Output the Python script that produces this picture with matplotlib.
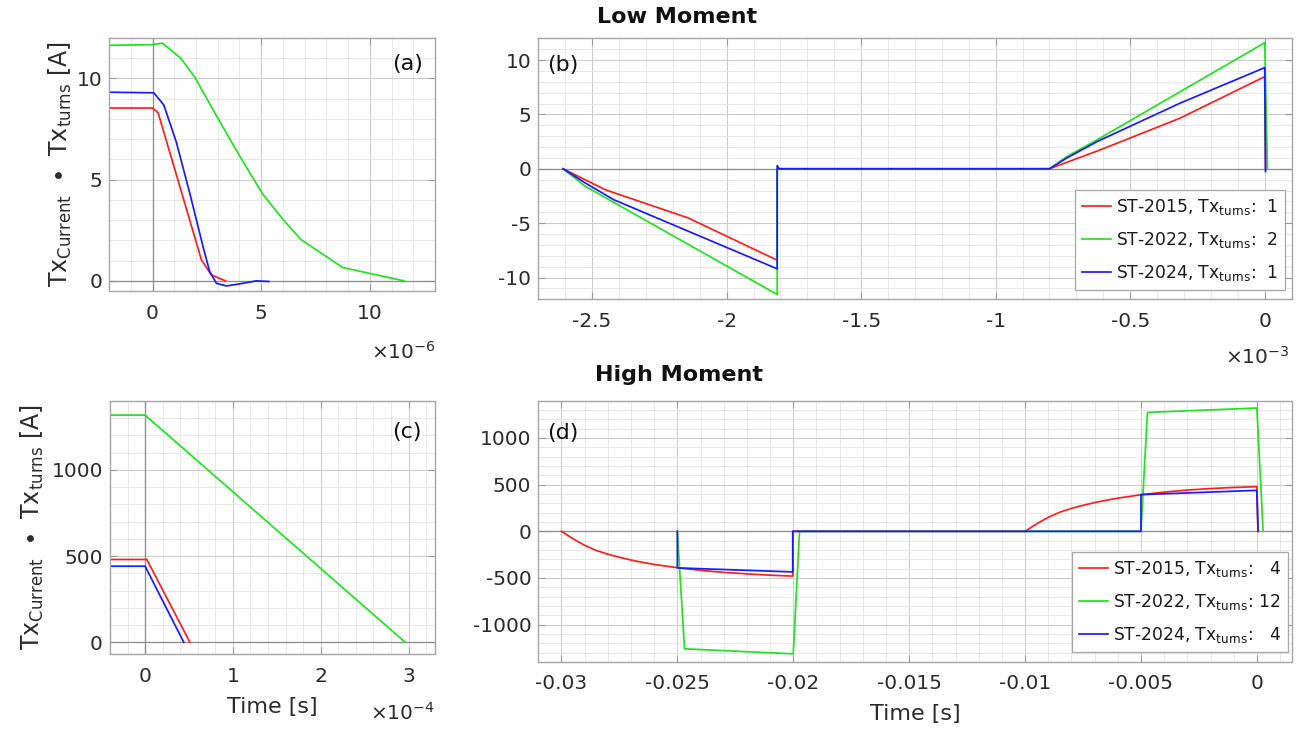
import matplotlib
matplotlib.use('Agg')
import matplotlib.pyplot as plt
from matplotlib.ticker import FixedLocator, FixedFormatter, MultipleLocator

plt.rcParams.update({
    'font.family': ['DejaVu Sans'],
    'mathtext.default': 'regular',
    'axes.unicode_minus': False,
})

# ---------------- data ----------------
# (a) Low moment turn-off ramp, time in units of 1e-6 s
a_red_t = [-2.0, 0.0, 0.26, 2.25, 2.7, 3.36]
a_red_y = [8.54, 8.54, 8.3, 1.04, 0.3, 0.0]
a_green_t = [-2.0, 0.0, 0.46, 1.3, 1.94, 2.94, 4.0, 5.08, 6.07, 6.83, 8.75, 11.57]
a_green_y = [11.64, 11.67, 11.74, 11.0, 10.07, 8.16, 6.18, 4.27, 2.95, 2.04, 0.66, 0.0]
a_blue_t = [-2.0, 0.06, 0.52, 1.10, 1.71, 2.32, 2.63, 2.94, 3.4, 4.0, 4.77, 5.35]
a_blue_y = [9.32, 9.29, 8.69, 6.84, 4.35, 1.71, 0.46, -0.12, -0.25, -0.15, 0.0, -0.03]

# (b) Low moment full waveform, time in units of 1e-3 s
b_red_t = [-2.608, -2.451, -2.142, -1.812, -1.812, -0.8, -0.611, -0.315, 0.0, 0.003]
b_red_y = [0.0, -1.93, -4.53, -8.41, 0.0, 0.0, 1.74, 4.65, 8.47, 0.0]
b_green_t = [-2.608, -2.525, -1.812, -1.812, -0.8, -0.735, -0.623, 0.0, 0.01]
b_green_y = [0.0, -1.62, -11.56, 0.0, 0.0, 1.13, 2.66, 11.59, 0.0]
b_blue_t = [-2.608, -2.525, -2.42, -1.812, -1.812, -1.805, -0.8, -0.735, -0.623, -0.315, 0.0, 0.003]
b_blue_y = [0.0, -1.31, -2.84, -9.2, 0.3, 0.0, 0.0, 1.0, 2.5, 6.03, 9.3, -0.25]

# (c) High moment turn-off ramp, time in units of 1e-4 s
c_red_t = [-0.4, 0.02, 0.51]
c_red_y = [480, 480, 0]
c_green_t = [-0.4, 0.0, 2.96]
c_green_y = [1318, 1318, 0]
c_blue_t = [-0.4, 0.0, 0.44]
c_blue_y = [441, 441, 0]

# (d) High moment full waveform, time in s
d_red_t = [-0.030, -0.0295, -0.029, -0.0285, -0.028, -0.0275, -0.027, -0.0265, -0.026, -0.025,
           -0.024, -0.023, -0.022, -0.021, -0.02002, -0.02002,
           -0.010, -0.0095, -0.009, -0.0085, -0.008, -0.0075, -0.007, -0.0065, -0.006, -0.005,
           -0.004, -0.003, -0.002, -0.001, 0.0, 0.00005]
d_red_y = [0, -80, -150, -205, -245, -278, -308, -333, -355, -390,
           -418, -440, -456, -470, -480, 0,
           0, 80, 150, 205, 245, 278, 308, 333, 355, 392,
           420, 442, 458, 470, 478, 0]
d_green_t = [-0.025, -0.02469, -0.0200, -0.01973, -0.005, -0.00472, 0.0, 0.00027]
d_green_y = [0, -1259, -1313, 0, 0, 1274, 1321, 0]
d_blue_t = [-0.025, -0.025, -0.02002, -0.02002, -0.005, -0.005, 0.0, 0.00005]
d_blue_y = [0, -392, -435, 0, 0, 393, 439, 0]

series_names = ['ST-2015', 'ST-2022', 'ST-2024']
turns_low = [1, 2, 1]
turns_high = [4, 12, 4]

# ticks
a_xticks = [0, 5, 10]
a_yticks = [0, 5, 10]
b_xticks = [-2.5, -2.0, -1.5, -1.0, -0.5, 0.0]
b_xticklabels = ['-2.5', '-2', '-1.5', '-1', '-0.5', '0']
b_yticks = [-10, -5, 0, 5, 10]
c_xticks = [0, 1, 2, 3]
c_yticks = [0, 500, 1000]
d_xticks = [-0.03, -0.025, -0.02, -0.015, -0.01, -0.005, 0.0]
d_xticklabels = ['-0.03', '-0.025', '-0.02', '-0.015', '-0.01', '-0.005', '0']
d_yticks = [-1000, -500, 0, 500, 1000]

# ---------------- style ----------------
RED = '#ff1f1f'
GREEN = '#22e022'
BLUE = '#1a1aff'
LW = 1.25
TXT = '#2b2b2b'
SPINE = '#a6a6a6'

fig = plt.figure(figsize=(12.98, 7.33), dpi=100)
ax_a = fig.add_axes([0.0840, 0.6030, 0.2512, 0.3452])
ax_b = fig.add_axes([0.4147, 0.5917, 0.5804, 0.3561])
ax_c = fig.add_axes([0.0847, 0.1074, 0.2504, 0.3456])
ax_d = fig.add_axes([0.4147, 0.0969, 0.5804, 0.3565])


def style(ax, xlim, ylim, xticks, yticks, xminor, yminor, xticklabels=None):
    ax.set_xlim(*xlim)
    ax.set_ylim(*ylim)
    ax.xaxis.set_major_locator(FixedLocator(xticks))
    ax.yaxis.set_major_locator(FixedLocator(yticks))
    if xticklabels is not None:
        ax.xaxis.set_major_formatter(FixedFormatter(xticklabels))
    ax.xaxis.set_minor_locator(MultipleLocator(xminor))
    ax.yaxis.set_minor_locator(MultipleLocator(yminor))
    ax.set_axisbelow(True)
    ax.grid(which='major', color='#cdcdcd', lw=0.8)
    ax.grid(which='minor', color='#e4e4e4', lw=0.6)
    ax.tick_params(which='both', direction='in', top=True, right=True,
                   color='#9a9a9a', labelcolor=TXT, labelsize=14.5)
    ax.tick_params(which='major', length=5, width=0.8)
    ax.tick_params(which='minor', length=0)
    ax.tick_params(axis='x', pad=9)
    ax.tick_params(axis='y', pad=5)
    for s in ax.spines.values():
        s.set_color(SPINE)
        s.set_linewidth(1.0)


style(ax_a, (-2, 13), (-0.5, 12), a_xticks, a_yticks, 1, 1)
style(ax_b, (-2.7, 0.1), (-12, 12), b_xticks, b_yticks, 0.1, 1, b_xticklabels)
style(ax_c, (-0.4, 3.3), (-70, 1400), c_xticks, c_yticks, 0.2, 100)
style(ax_d, (-0.031, 0.0015), (-1400, 1400), d_xticks, d_yticks, 0.001, 100, d_xticklabels)

for ax in (ax_a, ax_c):
    ax.axhline(0, color='#8c8c8c', lw=0.9, zorder=1.5)
    ax.axvline(0, color='#8c8c8c', lw=0.9, zorder=1.5)
for ax in (ax_b, ax_d):
    ax.axhline(0, color='#8c8c8c', lw=0.9, zorder=1.5)

ax_a.plot(a_red_t, a_red_y, color=RED, lw=LW)
ax_a.plot(a_green_t, a_green_y, color=GREEN, lw=LW)
ax_a.plot(a_blue_t, a_blue_y, color=BLUE, lw=LW)

ax_c.plot(c_red_t, c_red_y, color=RED, lw=LW)
ax_c.plot(c_green_t, c_green_y, color=GREEN, lw=LW)
ax_c.plot(c_blue_t, c_blue_y, color=BLUE, lw=LW)

lab_low = [r'%s, $\mathregular{Tx_{turns}}$:  %d' % (n, k) for n, k in zip(series_names, turns_low)]
lab_high = [r'%s, $\mathregular{Tx_{turns}}$: %s' % (n, ('%2d' % k).replace(' ', '  ')) for n, k in zip(series_names, turns_high)]

ax_b.plot(b_red_t, b_red_y, color=RED, lw=LW, label=lab_low[0])
ax_b.plot(b_green_t, b_green_y, color=GREEN, lw=LW, label=lab_low[1])
ax_b.plot(b_blue_t, b_blue_y, color=BLUE, lw=LW, label=lab_low[2])

ax_d.plot(d_red_t, d_red_y, color=RED, lw=LW, label=lab_high[0])
ax_d.plot(d_green_t, d_green_y, color=GREEN, lw=LW, label=lab_high[1])
ax_d.plot(d_blue_t, d_blue_y, color=BLUE, lw=LW, label=lab_high[2])

for ax, anchor in ((ax_b, (0.991, 0.0356)), (ax_d, (0.995, 0.037))):
    leg = ax.legend(loc='lower right', bbox_to_anchor=anchor, fontsize=12.3, frameon=True,
                    fancybox=False, edgecolor=SPINE, framealpha=1, handlelength=1.75,
                    handletextpad=0.25, borderpad=0.4, labelspacing=0.78, borderaxespad=0)
    leg.get_frame().set_linewidth(0.9)
    for t in leg.get_texts():
        t.set_color('#1a1a1a')

# panel letters
ax_a.text(0.963, 0.897, '(a)', transform=ax_a.transAxes, ha='right', va='center', fontsize=16, color='#111111')
ax_b.text(0.0115, 0.898, '(b)', transform=ax_b.transAxes, ha='left', va='center', fontsize=16, color='#111111')
ax_c.text(0.96, 0.877, '(c)', transform=ax_c.transAxes, ha='right', va='center', fontsize=16, color='#111111')
ax_d.text(0.0115, 0.876, '(d)', transform=ax_d.transAxes, ha='left', va='center', fontsize=16, color='#111111')

# exponent multipliers
ax_a.text(1.0, -0.241, r'$\times\mathregular{10^{-6}}$', transform=ax_a.transAxes, ha='right', va='center', fontsize=14.5, color=TXT)
ax_b.text(0.997, -0.222, r'$\times\mathregular{10^{-3}}$', transform=ax_b.transAxes, ha='right', va='center', fontsize=14.5, color=TXT)
ax_c.text(1.0, -0.233, r'$\times\mathregular{10^{-4}}$', transform=ax_c.transAxes, ha='right', va='center', fontsize=14.5, color=TXT)

# axis labels
ylab = r'$\mathregular{Tx_{Current}\ \bullet\ Tx_{turns}}$ [A]'
ax_a.set_ylabel(ylab, fontsize=17, color=TXT)
ax_c.set_ylabel(ylab, fontsize=17, color=TXT)
ax_a.yaxis.set_label_coords(-0.107, 0.5)
ax_c.yaxis.set_label_coords(-0.197, 0.5)
ax_c.set_xlabel('Time [s]', fontsize=16, color=TXT)
ax_d.set_xlabel('Time [s]', fontsize=16, color=TXT)
ax_c.xaxis.set_label_coords(0.5, -0.17)
ax_d.xaxis.set_label_coords(0.5, -0.16)

# titles
fig.text(597 / 1298, 0.977, 'Low Moment', ha='left', va='center', fontsize=16, fontweight='bold', color='#111111')
fig.text(595 / 1298, 0.4884, 'High Moment', ha='left', va='center', fontsize=16, fontweight='bold', color='#111111')

fig.savefig('out.png', dpi=100)
